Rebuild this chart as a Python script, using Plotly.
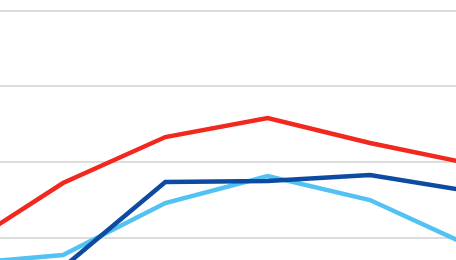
import plotly.graph_objects as go

categories = ["P1", "P2", "P3", "P4", "P5", "P6"]
red_series = [-1.45, 7.26, 13.32, 15.83, 12.53, 9.76]
light_blue_series = [-3.43, -2.24, 4.62, 8.18, 5.01, -1.19]
dark_blue_series = [-4.6, -3.89, 7.39, 7.52, 8.31, 6.12]

x_idx = list(range(len(categories)))

fig = go.Figure()
fig.add_trace(go.Scatter(x=x_idx, y=red_series, mode="lines",
                         line=dict(color="#F2281E", width=4.5), name="A"))
fig.add_trace(go.Scatter(x=x_idx, y=light_blue_series, mode="lines",
                         line=dict(color="#52C2F5", width=4.5), name="B"))
fig.add_trace(go.Scatter(x=x_idx, y=dark_blue_series, mode="lines",
                         line=dict(color="#0D4BA3", width=4.5), name="C"))

fig.update_layout(
    width=456, height=260,
    margin=dict(l=0, r=0, t=0, b=0),
    paper_bgcolor="white", plot_bgcolor="white",
    showlegend=False,
    xaxis=dict(range=[0.3844, 4.8405], showgrid=False, zeroline=False,
               showticklabels=False, showline=False,
               tickvals=x_idx, ticktext=categories),
    yaxis=dict(range=[-2.90, 31.4], tick0=0, dtick=10, showgrid=True,
               gridcolor="#DCDCDC", gridwidth=1.5, zeroline=False,
               showticklabels=False, showline=False),
)

fig.write_html("out.html")
